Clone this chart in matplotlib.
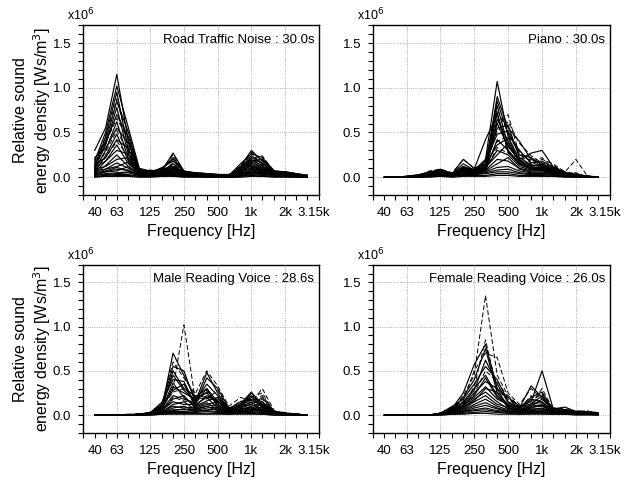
import numpy as np
import matplotlib
matplotlib.use("Agg")
import matplotlib.pyplot as plt
import matplotlib.transforms as mtransforms
from matplotlib.ticker import FixedLocator, MultipleLocator

plt.rcParams['font.family'] = ['Liberation Sans', 'DejaVu Sans']

# 1/3 octave band centre frequencies [Hz]
bands = [40, 50, 63, 80, 100, 125, 160, 200, 250, 315,
         400, 500, 630, 800, 1000, 1250, 1600, 2000, 2500, 3150]
xtick_vals = [40, 63, 125, 250, 500, 1000, 2000, 3150]
xtick_labels = ['40', '63', '125', '250', '500', '1k', '2k', '3.15k']
titles = ['Road Traffic Noise : 30.0s', 'Piano : 30.0s',
          'Male Reading Voice : 28.6s', 'Female Reading Voice : 26.0s']

# relative sound energy density, x10^6 Ws/m3, one row per time frame
road = [
    [0.30, 0.55, 1.15, 0.40, 0.08, 0.06, 0.09, 0.12, 0.06, 0.05, 0.04, 0.03, 0.03, 0.10, 0.22, 0.15, 0.06, 0.06, 0.04, 0.02],
    [0.18, 0.50, 1.02, 0.55, 0.10, 0.07, 0.08, 0.27, 0.07, 0.05, 0.04, 0.03, 0.02, 0.08, 0.18, 0.20, 0.07, 0.06, 0.04, 0.02],
    [0.12, 0.45, 0.95, 0.30, 0.06, 0.05, 0.10, 0.20, 0.06, 0.04, 0.03, 0.03, 0.02, 0.12, 0.30, 0.18, 0.06, 0.05, 0.03, 0.02],
    [0.20, 0.40, 0.85, 0.50, 0.07, 0.06, 0.07, 0.15, 0.05, 0.04, 0.03, 0.02, 0.02, 0.15, 0.26, 0.22, 0.07, 0.06, 0.04, 0.02],
    [0.10, 0.36, 0.78, 0.25, 0.05, 0.08, 0.06, 0.10, 0.05, 0.05, 0.04, 0.03, 0.03, 0.09, 0.20, 0.12, 0.05, 0.05, 0.03, 0.02],
    [0.15, 0.38, 0.70, 0.45, 0.09, 0.05, 0.11, 0.18, 0.07, 0.04, 0.03, 0.03, 0.02, 0.06, 0.16, 0.10, 0.06, 0.05, 0.03, 0.01],
    [0.08, 0.30, 0.62, 0.20, 0.04, 0.04, 0.05, 0.08, 0.04, 0.03, 0.03, 0.02, 0.02, 0.11, 0.24, 0.16, 0.05, 0.04, 0.03, 0.01],
    [0.22, 0.32, 0.55, 0.38, 0.06, 0.07, 0.08, 0.12, 0.05, 0.04, 0.03, 0.03, 0.03, 0.07, 0.14, 0.09, 0.05, 0.05, 0.03, 0.02],
    [0.06, 0.24, 0.48, 0.18, 0.05, 0.05, 0.06, 0.09, 0.04, 0.03, 0.02, 0.02, 0.02, 0.08, 0.19, 0.13, 0.04, 0.04, 0.02, 0.01],
    [0.14, 0.22, 0.42, 0.32, 0.07, 0.06, 0.09, 0.22, 0.06, 0.04, 0.03, 0.02, 0.02, 0.10, 0.12, 0.08, 0.04, 0.04, 0.02, 0.01],
    [0.05, 0.18, 0.36, 0.15, 0.04, 0.04, 0.05, 0.07, 0.04, 0.03, 0.02, 0.02, 0.02, 0.05, 0.17, 0.11, 0.04, 0.04, 0.02, 0.01],
    [0.11, 0.18, 0.30, 0.26, 0.05, 0.05, 0.07, 0.11, 0.05, 0.04, 0.03, 0.02, 0.02, 0.07, 0.10, 0.07, 0.04, 0.03, 0.02, 0.01],
    [0.04, 0.13, 0.25, 0.12, 0.03, 0.03, 0.04, 0.06, 0.03, 0.03, 0.02, 0.02, 0.01, 0.06, 0.13, 0.09, 0.03, 0.03, 0.02, 0.01],
    [0.09, 0.12, 0.20, 0.22, 0.04, 0.04, 0.06, 0.09, 0.04, 0.03, 0.02, 0.02, 0.02, 0.04, 0.09, 0.06, 0.03, 0.03, 0.02, 0.01],
    [0.03, 0.09, 0.16, 0.10, 0.03, 0.03, 0.04, 0.05, 0.03, 0.02, 0.02, 0.01, 0.01, 0.05, 0.11, 0.08, 0.03, 0.03, 0.02, 0.01],
    [0.07, 0.09, 0.12, 0.17, 0.04, 0.03, 0.05, 0.07, 0.03, 0.03, 0.02, 0.02, 0.01, 0.03, 0.07, 0.05, 0.03, 0.03, 0.01, 0.01],
    [0.02, 0.06, 0.09, 0.08, 0.02, 0.02, 0.03, 0.04, 0.02, 0.02, 0.01, 0.01, 0.01, 0.04, 0.08, 0.06, 0.02, 0.02, 0.01, 0.01],
    [0.05, 0.06, 0.07, 0.12, 0.03, 0.03, 0.04, 0.05, 0.03, 0.02, 0.02, 0.01, 0.01, 0.02, 0.05, 0.04, 0.02, 0.02, 0.01, 0.01],
    [0.02, 0.04, 0.05, 0.06, 0.02, 0.02, 0.02, 0.03, 0.02, 0.02, 0.01, 0.01, 0.01, 0.03, 0.06, 0.04, 0.02, 0.02, 0.01, 0.00],
    [0.03, 0.03, 0.04, 0.05, 0.02, 0.02, 0.03, 0.03, 0.02, 0.01, 0.01, 0.01, 0.01, 0.02, 0.04, 0.03, 0.02, 0.02, 0.01, 0.00],
    [0.01, 0.02, 0.03, 0.03, 0.01, 0.01, 0.02, 0.02, 0.01, 0.01, 0.01, 0.01, 0.00, 0.01, 0.03, 0.02, 0.01, 0.01, 0.01, 0.00],
    [0.01, 0.01, 0.02, 0.02, 0.01, 0.01, 0.01, 0.01, 0.01, 0.01, 0.00, 0.00, 0.00, 0.01, 0.02, 0.01, 0.01, 0.01, 0.00, 0.00],
    [0.00, 0.01, 0.01, 0.01, 0.00, 0.00, 0.01, 0.01, 0.00, 0.00, 0.00, 0.00, 0.00, 0.00, 0.01, 0.01, 0.00, 0.00, 0.00, 0.00],
    [0.04, 0.07, 0.11, 0.07, 0.02, 0.03, 0.03, 0.04, 0.02, 0.02, 0.01, 0.01, 0.01, 0.03, 0.05, 0.05, 0.02, 0.02, 0.01, 0.01],
    [0.16, 0.45, 0.88, 0.35, 0.06, 0.06, 0.08, 0.14, 0.06, 0.04, 0.03, 0.03, 0.02, 0.13, 0.28, 0.19, 0.06, 0.05, 0.03, 0.02],
    [0.12, 0.38, 0.66, 0.42, 0.08, 0.07, 0.09, 0.25, 0.05, 0.04, 0.03, 0.02, 0.02, 0.09, 0.21, 0.24, 0.06, 0.05, 0.03, 0.02],
    [0.09, 0.28, 0.52, 0.28, 0.05, 0.05, 0.07, 0.16, 0.05, 0.04, 0.03, 0.02, 0.02, 0.11, 0.27, 0.14, 0.05, 0.04, 0.03, 0.01],
    [0.07, 0.22, 0.40, 0.24, 0.05, 0.04, 0.06, 0.10, 0.04, 0.03, 0.02, 0.02, 0.02, 0.06, 0.15, 0.21, 0.05, 0.04, 0.02, 0.01],
]
road_dash = [0]*24 + [1]*4

piano = [
    [0.00, 0.00, 0.01, 0.02, 0.06, 0.08, 0.04, 0.12, 0.08, 0.20, 1.07, 0.45, 0.20, 0.12, 0.15, 0.08, 0.04, 0.03, 0.01, 0.00],
    [0.00, 0.00, 0.01, 0.03, 0.05, 0.07, 0.03, 0.10, 0.09, 0.42, 0.70, 0.30, 0.15, 0.10, 0.12, 0.06, 0.03, 0.02, 0.01, 0.00],
    [0.00, 0.00, 0.01, 0.02, 0.06, 0.06, 0.04, 0.15, 0.08, 0.12, 0.90, 0.55, 0.40, 0.20, 0.15, 0.10, 0.05, 0.03, 0.01, 0.00],
    [0.00, 0.00, 0.00, 0.01, 0.04, 0.05, 0.03, 0.08, 0.06, 0.10, 0.80, 0.35, 0.20, 0.27, 0.30, 0.12, 0.05, 0.02, 0.01, 0.00],
    [0.00, 0.00, 0.00, 0.02, 0.03, 0.04, 0.02, 0.07, 0.05, 0.08, 0.65, 0.40, 0.18, 0.10, 0.08, 0.05, 0.03, 0.02, 0.01, 0.00],
    [0.00, 0.00, 0.00, 0.01, 0.04, 0.05, 0.03, 0.06, 0.06, 0.12, 0.55, 0.58, 0.22, 0.14, 0.12, 0.08, 0.04, 0.03, 0.01, 0.00],
    [0.00, 0.00, 0.01, 0.02, 0.05, 0.09, 0.04, 0.20, 0.10, 0.15, 0.85, 0.48, 0.30, 0.16, 0.18, 0.11, 0.05, 0.03, 0.01, 0.00],
    [0.00, 0.00, 0.00, 0.01, 0.03, 0.04, 0.03, 0.09, 0.07, 0.18, 0.48, 0.52, 0.25, 0.22, 0.14, 0.07, 0.04, 0.02, 0.01, 0.00],
    [0.00, 0.00, 0.00, 0.01, 0.04, 0.06, 0.03, 0.11, 0.06, 0.09, 0.42, 0.30, 0.15, 0.12, 0.10, 0.06, 0.03, 0.02, 0.01, 0.00],
    [0.00, 0.00, 0.00, 0.02, 0.05, 0.05, 0.03, 0.08, 0.08, 0.14, 0.36, 0.44, 0.18, 0.09, 0.11, 0.07, 0.04, 0.02, 0.01, 0.00],
    [0.00, 0.00, 0.00, 0.01, 0.03, 0.04, 0.02, 0.07, 0.05, 0.10, 0.30, 0.25, 0.12, 0.08, 0.09, 0.05, 0.03, 0.02, 0.00, 0.00],
    [0.00, 0.00, 0.00, 0.01, 0.04, 0.05, 0.03, 0.10, 0.06, 0.11, 0.25, 0.38, 0.16, 0.11, 0.07, 0.06, 0.03, 0.02, 0.01, 0.00],
    [0.00, 0.00, 0.00, 0.01, 0.03, 0.03, 0.02, 0.06, 0.05, 0.08, 0.20, 0.18, 0.10, 0.07, 0.08, 0.04, 0.02, 0.01, 0.00, 0.00],
    [0.00, 0.00, 0.00, 0.01, 0.02, 0.04, 0.02, 0.05, 0.04, 0.07, 0.15, 0.22, 0.09, 0.06, 0.06, 0.04, 0.02, 0.01, 0.00, 0.00],
    [0.00, 0.00, 0.00, 0.01, 0.02, 0.03, 0.02, 0.04, 0.04, 0.06, 0.11, 0.12, 0.07, 0.05, 0.05, 0.03, 0.02, 0.01, 0.00, 0.00],
    [0.00, 0.00, 0.00, 0.00, 0.02, 0.02, 0.01, 0.03, 0.03, 0.05, 0.08, 0.09, 0.05, 0.04, 0.04, 0.03, 0.01, 0.01, 0.00, 0.00],
    [0.00, 0.00, 0.00, 0.00, 0.01, 0.02, 0.01, 0.03, 0.03, 0.04, 0.06, 0.06, 0.04, 0.03, 0.03, 0.02, 0.01, 0.01, 0.00, 0.00],
    [0.00, 0.00, 0.00, 0.00, 0.01, 0.01, 0.01, 0.02, 0.02, 0.02, 0.04, 0.04, 0.02, 0.02, 0.02, 0.01, 0.01, 0.00, 0.00, 0.00],
    [0.00, 0.00, 0.00, 0.00, 0.00, 0.01, 0.00, 0.01, 0.01, 0.01, 0.02, 0.02, 0.01, 0.01, 0.01, 0.01, 0.00, 0.00, 0.00, 0.00],
    [0.00, 0.00, 0.00, 0.01, 0.03, 0.05, 0.02, 0.08, 0.05, 0.10, 0.72, 0.28, 0.14, 0.09, 0.10, 0.06, 0.03, 0.02, 0.01, 0.00],
    [0.00, 0.00, 0.00, 0.01, 0.03, 0.04, 0.03, 0.07, 0.06, 0.13, 0.60, 0.34, 0.19, 0.13, 0.13, 0.09, 0.04, 0.02, 0.01, 0.00],
    [0.00, 0.00, 0.00, 0.02, 0.07, 0.09, 0.05, 0.20, 0.10, 0.15, 0.60, 0.70, 0.25, 0.18, 0.10, 0.07, 0.04, 0.05, 0.01, 0.00],
    [0.00, 0.00, 0.00, 0.01, 0.05, 0.06, 0.03, 0.09, 0.07, 0.18, 0.75, 0.50, 0.30, 0.15, 0.20, 0.15, 0.06, 0.20, 0.02, 0.00],
    [0.00, 0.00, 0.00, 0.01, 0.04, 0.05, 0.03, 0.12, 0.07, 0.11, 0.52, 0.62, 0.38, 0.24, 0.16, 0.12, 0.06, 0.04, 0.01, 0.00],
    [0.00, 0.00, 0.00, 0.01, 0.03, 0.04, 0.02, 0.08, 0.06, 0.09, 0.40, 0.46, 0.28, 0.17, 0.22, 0.10, 0.05, 0.03, 0.01, 0.00],
    [0.00, 0.00, 0.00, 0.01, 0.03, 0.04, 0.02, 0.06, 0.05, 0.08, 0.33, 0.27, 0.21, 0.20, 0.12, 0.14, 0.04, 0.02, 0.01, 0.00],
]
piano_dash = [0]*21 + [1]*5

male = [
    [0.00, 0.00, 0.00, 0.01, 0.01, 0.03, 0.10, 0.70, 0.45, 0.20, 0.30, 0.15, 0.08, 0.12, 0.20, 0.15, 0.04, 0.02, 0.01, 0.00],
    [0.00, 0.00, 0.00, 0.00, 0.01, 0.03, 0.12, 0.55, 0.50, 0.15, 0.48, 0.25, 0.06, 0.10, 0.25, 0.12, 0.03, 0.02, 0.01, 0.00],
    [0.00, 0.00, 0.00, 0.00, 0.01, 0.02, 0.08, 0.50, 0.30, 0.22, 0.20, 0.18, 0.07, 0.15, 0.18, 0.10, 0.03, 0.02, 0.01, 0.00],
    [0.00, 0.00, 0.00, 0.00, 0.01, 0.02, 0.15, 0.40, 0.38, 0.12, 0.42, 0.30, 0.08, 0.08, 0.12, 0.20, 0.04, 0.02, 0.01, 0.00],
    [0.00, 0.00, 0.00, 0.00, 0.01, 0.02, 0.07, 0.32, 0.25, 0.18, 0.25, 0.12, 0.05, 0.12, 0.22, 0.08, 0.03, 0.01, 0.01, 0.00],
    [0.00, 0.00, 0.00, 0.00, 0.01, 0.02, 0.09, 0.28, 0.35, 0.10, 0.16, 0.20, 0.06, 0.06, 0.10, 0.14, 0.03, 0.02, 0.00, 0.00],
    [0.00, 0.00, 0.00, 0.00, 0.01, 0.02, 0.06, 0.22, 0.18, 0.14, 0.30, 0.10, 0.05, 0.09, 0.15, 0.06, 0.02, 0.01, 0.00, 0.00],
    [0.00, 0.00, 0.00, 0.00, 0.01, 0.02, 0.05, 0.18, 0.22, 0.08, 0.12, 0.15, 0.04, 0.07, 0.08, 0.12, 0.03, 0.01, 0.00, 0.00],
    [0.00, 0.00, 0.00, 0.00, 0.00, 0.02, 0.06, 0.15, 0.12, 0.12, 0.20, 0.08, 0.04, 0.10, 0.12, 0.05, 0.02, 0.01, 0.00, 0.00],
    [0.00, 0.00, 0.00, 0.00, 0.00, 0.01, 0.04, 0.12, 0.15, 0.06, 0.10, 0.12, 0.04, 0.05, 0.07, 0.09, 0.02, 0.01, 0.00, 0.00],
    [0.00, 0.00, 0.00, 0.00, 0.00, 0.01, 0.04, 0.10, 0.08, 0.09, 0.14, 0.06, 0.03, 0.07, 0.09, 0.04, 0.02, 0.01, 0.00, 0.00],
    [0.00, 0.00, 0.00, 0.00, 0.00, 0.01, 0.03, 0.08, 0.10, 0.05, 0.08, 0.09, 0.03, 0.04, 0.06, 0.07, 0.02, 0.01, 0.00, 0.00],
    [0.00, 0.00, 0.00, 0.00, 0.00, 0.01, 0.03, 0.06, 0.06, 0.07, 0.10, 0.05, 0.03, 0.05, 0.07, 0.03, 0.01, 0.01, 0.00, 0.00],
    [0.00, 0.00, 0.00, 0.00, 0.00, 0.01, 0.02, 0.05, 0.07, 0.04, 0.06, 0.07, 0.02, 0.03, 0.05, 0.05, 0.01, 0.01, 0.00, 0.00],
    [0.00, 0.00, 0.00, 0.00, 0.00, 0.01, 0.02, 0.04, 0.04, 0.05, 0.05, 0.04, 0.02, 0.04, 0.04, 0.03, 0.01, 0.00, 0.00, 0.00],
    [0.00, 0.00, 0.00, 0.00, 0.00, 0.01, 0.02, 0.03, 0.03, 0.03, 0.04, 0.03, 0.02, 0.03, 0.03, 0.02, 0.01, 0.00, 0.00, 0.00],
    [0.00, 0.00, 0.00, 0.00, 0.00, 0.00, 0.01, 0.02, 0.02, 0.02, 0.02, 0.02, 0.01, 0.02, 0.02, 0.01, 0.00, 0.00, 0.00, 0.00],
    [0.00, 0.00, 0.00, 0.00, 0.00, 0.00, 0.01, 0.01, 0.01, 0.01, 0.01, 0.01, 0.01, 0.01, 0.01, 0.01, 0.00, 0.00, 0.00, 0.00],
    [0.00, 0.00, 0.00, 0.00, 0.01, 0.02, 0.11, 0.45, 0.28, 0.16, 0.35, 0.22, 0.07, 0.11, 0.17, 0.11, 0.03, 0.02, 0.01, 0.00],
    [0.00, 0.00, 0.00, 0.00, 0.01, 0.02, 0.08, 0.36, 0.20, 0.10, 0.22, 0.16, 0.05, 0.13, 0.26, 0.09, 0.03, 0.01, 0.00, 0.00],
    [0.00, 0.00, 0.00, 0.00, 0.01, 0.03, 0.10, 0.30, 1.02, 0.18, 0.26, 0.14, 0.06, 0.10, 0.14, 0.30, 0.05, 0.02, 0.01, 0.00],
    [0.00, 0.00, 0.00, 0.00, 0.01, 0.03, 0.14, 0.60, 0.42, 0.24, 0.50, 0.33, 0.10, 0.20, 0.16, 0.22, 0.04, 0.03, 0.01, 0.00],
    [0.00, 0.00, 0.00, 0.00, 0.01, 0.02, 0.09, 0.26, 0.30, 0.20, 0.18, 0.28, 0.07, 0.16, 0.12, 0.18, 0.03, 0.02, 0.01, 0.00],
    [0.00, 0.00, 0.00, 0.00, 0.01, 0.02, 0.06, 0.20, 0.16, 0.13, 0.28, 0.11, 0.05, 0.09, 0.20, 0.25, 0.03, 0.02, 0.01, 0.00],
]
male_dash = [0]*20 + [1]*4

female = [
    [0.00, 0.00, 0.00, 0.00, 0.00, 0.02, 0.08, 0.25, 0.57, 0.80, 0.30, 0.20, 0.10, 0.15, 0.50, 0.08, 0.06, 0.04, 0.03, 0.02],
    [0.00, 0.00, 0.00, 0.00, 0.00, 0.02, 0.06, 0.20, 0.40, 0.75, 0.25, 0.12, 0.08, 0.33, 0.20, 0.06, 0.05, 0.04, 0.03, 0.02],
    [0.00, 0.00, 0.00, 0.00, 0.00, 0.02, 0.10, 0.18, 0.35, 0.55, 0.40, 0.15, 0.09, 0.12, 0.22, 0.07, 0.09, 0.04, 0.03, 0.02],
    [0.00, 0.00, 0.00, 0.00, 0.00, 0.02, 0.07, 0.15, 0.30, 0.45, 0.22, 0.10, 0.07, 0.18, 0.15, 0.05, 0.05, 0.03, 0.02, 0.02],
    [0.00, 0.00, 0.00, 0.00, 0.00, 0.02, 0.05, 0.12, 0.25, 0.38, 0.30, 0.08, 0.06, 0.10, 0.18, 0.06, 0.04, 0.03, 0.02, 0.02],
    [0.00, 0.00, 0.00, 0.00, 0.00, 0.01, 0.05, 0.10, 0.20, 0.32, 0.18, 0.12, 0.05, 0.08, 0.12, 0.05, 0.04, 0.03, 0.02, 0.01],
    [0.00, 0.00, 0.00, 0.00, 0.00, 0.01, 0.04, 0.08, 0.18, 0.26, 0.15, 0.07, 0.05, 0.09, 0.10, 0.04, 0.03, 0.03, 0.02, 0.01],
    [0.00, 0.00, 0.00, 0.00, 0.00, 0.01, 0.04, 0.07, 0.15, 0.22, 0.12, 0.09, 0.04, 0.06, 0.08, 0.04, 0.03, 0.02, 0.02, 0.01],
    [0.00, 0.00, 0.00, 0.00, 0.00, 0.01, 0.03, 0.06, 0.12, 0.18, 0.10, 0.06, 0.04, 0.07, 0.07, 0.03, 0.03, 0.02, 0.02, 0.01],
    [0.00, 0.00, 0.00, 0.00, 0.00, 0.01, 0.03, 0.05, 0.10, 0.14, 0.08, 0.05, 0.03, 0.05, 0.06, 0.03, 0.02, 0.02, 0.02, 0.01],
    [0.00, 0.00, 0.00, 0.00, 0.00, 0.01, 0.02, 0.04, 0.08, 0.11, 0.07, 0.04, 0.03, 0.04, 0.05, 0.03, 0.02, 0.02, 0.01, 0.01],
    [0.00, 0.00, 0.00, 0.00, 0.00, 0.01, 0.02, 0.04, 0.06, 0.08, 0.05, 0.04, 0.03, 0.04, 0.04, 0.02, 0.02, 0.02, 0.01, 0.01],
    [0.00, 0.00, 0.00, 0.00, 0.00, 0.01, 0.02, 0.03, 0.05, 0.06, 0.04, 0.03, 0.02, 0.03, 0.03, 0.02, 0.02, 0.01, 0.01, 0.01],
    [0.00, 0.00, 0.00, 0.00, 0.00, 0.00, 0.01, 0.02, 0.03, 0.04, 0.03, 0.02, 0.01, 0.02, 0.02, 0.01, 0.01, 0.01, 0.01, 0.00],
    [0.00, 0.00, 0.00, 0.00, 0.00, 0.00, 0.01, 0.01, 0.02, 0.02, 0.01, 0.01, 0.01, 0.01, 0.01, 0.01, 0.01, 0.00, 0.00, 0.00],
    [0.00, 0.00, 0.00, 0.00, 0.00, 0.02, 0.06, 0.14, 0.28, 0.62, 0.35, 0.14, 0.08, 0.20, 0.26, 0.06, 0.05, 0.03, 0.02, 0.02],
    [0.00, 0.00, 0.00, 0.00, 0.00, 0.02, 0.05, 0.11, 0.22, 0.42, 0.20, 0.11, 0.06, 0.13, 0.14, 0.05, 0.04, 0.03, 0.02, 0.01],
    [0.00, 0.00, 0.00, 0.00, 0.00, 0.01, 0.04, 0.09, 0.16, 0.30, 0.26, 0.08, 0.05, 0.11, 0.11, 0.04, 0.03, 0.02, 0.02, 0.01],
    [0.00, 0.00, 0.00, 0.00, 0.00, 0.02, 0.07, 0.22, 0.45, 1.35, 0.45, 0.22, 0.10, 0.12, 0.30, 0.07, 0.06, 0.05, 0.04, 0.03],
    [0.00, 0.00, 0.00, 0.00, 0.00, 0.02, 0.09, 0.16, 0.50, 0.70, 0.65, 0.25, 0.12, 0.30, 0.18, 0.08, 0.07, 0.04, 0.05, 0.02],
    [0.00, 0.00, 0.00, 0.00, 0.00, 0.02, 0.06, 0.12, 0.32, 0.85, 0.28, 0.18, 0.09, 0.16, 0.24, 0.06, 0.05, 0.03, 0.03, 0.02],
    [0.00, 0.00, 0.00, 0.00, 0.00, 0.01, 0.05, 0.10, 0.24, 0.50, 0.38, 0.20, 0.07, 0.22, 0.12, 0.05, 0.04, 0.03, 0.03, 0.02],
]
female_dash = [0]*18 + [1]*4

datasets = [(road, road_dash), (piano, piano_dash), (male, male_dash), (female, female_dash)]

fig = plt.figure(figsize=(6.34, 4.83), dpi=100)
boxes = [[0.131, 0.596, 0.372, 0.352], [0.588, 0.596, 0.374, 0.352],
         [0.131, 0.104, 0.372, 0.348], [0.588, 0.104, 0.374, 0.348]]

for k, (frames, dash) in enumerate(datasets):
    ax = fig.add_axes(boxes[k])
    for row, d in zip(frames, dash):
        if d:
            ax.plot(bands, row, color='black', lw=0.7, ls=(0, (5, 2.5)))
        else:
            ax.plot(bands, row, color='black', lw=0.85)
    ax.set_xscale('log')
    ax.set_xlim(31.5, 4000)
    ax.set_ylim(-0.2, 1.7)
    ax.xaxis.set_major_locator(FixedLocator(xtick_vals))
    ax.set_xticklabels(xtick_labels)
    ax.xaxis.set_minor_locator(FixedLocator([31.5] + bands + [4000]))
    ax.xaxis.set_minor_formatter(plt.NullFormatter())
    ax.set_yticks([0, 0.5, 1.0, 1.5])
    ax.set_yticklabels(['0.0', '0.5', '1.0', '1.5'])
    ax.yaxis.set_minor_locator(MultipleLocator(0.1))
    ax.tick_params(which='both', direction='out', length=3.5, width=0.8,
                   labelsize=9.5, pad=5, top=False, right=False)
    # nudge the last label right so it clears "2k"
    last = ax.get_xticklabels()[-1]
    last.set_transform(last.get_transform() +
                       mtransforms.ScaledTranslation(6 / 100, 0, fig.dpi_scale_trans))
    for f in [63, 125, 250, 500, 1000, 2000]:
        ax.axvline(f, color='0.6', lw=0.6, ls=':', zorder=0)
    for v in [0, 0.5, 1.0, 1.5]:
        ax.axhline(v, color='0.6', lw=0.6, ls=':', zorder=0)
    for s in ax.spines.values():
        s.set_linewidth(1.0)
    ax.set_xlabel('Frequency [Hz]', fontsize=11.5, labelpad=4)
    if k % 2 == 0:
        ax.set_ylabel('Relative sound\nenergy density [Ws/m$^3$]', fontsize=11.5,
                      labelpad=0, linespacing=1.2)
    ax.text(-0.01, 1.01, 'x10$^6$', transform=ax.transAxes, ha='center',
            va='bottom', fontsize=9)
    ax.text(0.98, 0.95, titles[k], transform=ax.transAxes, ha='right',
            va='top', fontsize=9.5)

fig.savefig('out.png', dpi=100)
